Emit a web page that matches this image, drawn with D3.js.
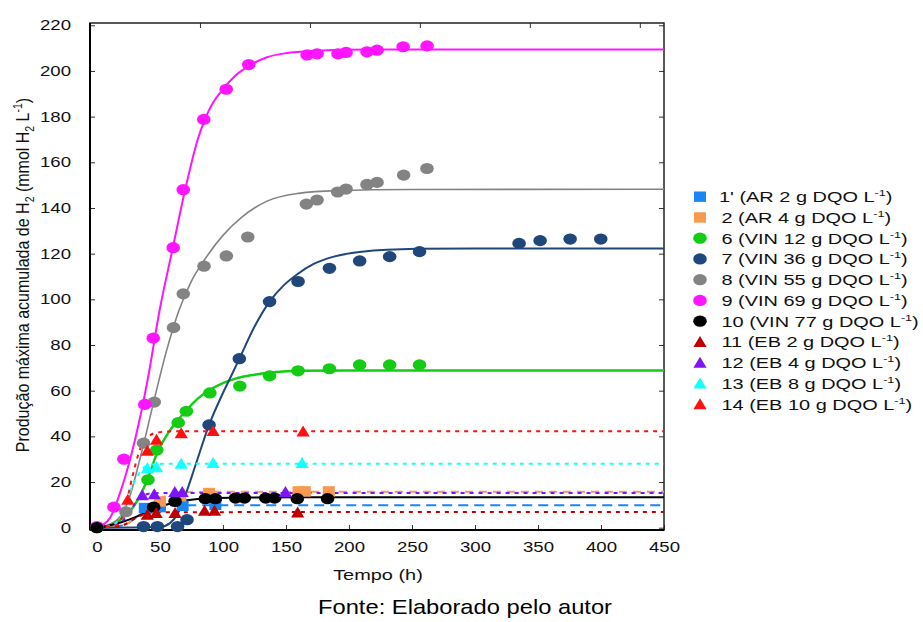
<!DOCTYPE html>
<html>
<head>
<meta charset="utf-8">
<script src="https://cdn.jsdelivr.net/npm/d3@7"></script>
<style>
  body { margin: 0; background: #fff; }
  svg { font-family: "Liberation Sans", Arial, sans-serif; }
</style>
</head>
<body>
<svg id="chart" width="923" height="622"></svg>
<script>
// Observed points [tempo (h), H2 (mmol/L)]
const obs1 = [[38, 8.6], [50, 9], [68, 9.6], [94, 10]];
const obs2 = [[50, 11.5], [66, 13.7], [89, 15.2], [160, 15.9], [165, 15.9], [184, 15.9]];
const obs6 = [[0, 0], [40.5, 21], [47.5, 34], [64.5, 46], [71, 51], [89.6, 59], [113.4, 62], [137, 66.5], [159.6, 68.7], [184.5, 69.6], [208.5, 71.3], [232.3, 71.3], [256, 71.3]];
const obs7 = [[37, 0.5], [48, 0.5], [64, 0.5], [71.5, 3.5], [89, 45], [113, 74], [137, 99], [159.6, 107.8], [184.5, 113.6], [208.5, 116.8], [232.3, 118.7], [256, 120.9], [335, 124.5], [351.7, 125.7], [375.5, 126.4], [399.8, 126.4]];
const obs8 = [[23, 7], [37, 37], [45.5, 55], [60.8, 87.6], [68.5, 102.4], [85, 114.5], [102.7, 119], [119.7, 127.3], [166.2, 141.7], [174.7, 143.5], [191, 147], [197.7, 148.3], [214.3, 150.3], [222.3, 151.2], [243.4, 154.4], [261.9, 157.3]];
const obs9 = [[0, 0.5], [13.5, 9], [21.4, 30], [38, 54], [44.7, 83], [60.5, 122.6], [68.5, 148], [84.8, 178.8], [102.6, 192], [120.5, 202.8], [166.8, 207], [174.7, 207.5], [191.3, 207.5], [197.7, 208.1], [214.3, 208.4], [222.3, 209.1], [243, 210.6], [262, 211]];
const obs10 = [[0, 0], [45, 9], [62, 11.5], [86, 12.7], [94, 12.7], [110, 13], [117, 13], [134, 13], [141, 13], [159, 12.7], [183, 12.7]];
const obs11 = [[40, 5.7], [47, 6.4], [62, 6.4], [85.4, 7.4], [93.3, 7.4], [159.3, 6.7]];
const obs12 = [[36, 14.2], [45.5, 14.6], [61.8, 15.6], [67.7, 15.6], [149.6, 15.6]];
const obs13 = [[40, 26], [47.3, 26.5], [66.9, 28], [92.2, 28.3], [162.8, 28.3]];
const obs14 = [[24.5, 12.2], [40, 33.7], [47.3, 38.5], [66.9, 41.4], [92.2, 42.4], [163.6, 42.1]];

// Fitted curves
const fit1 = [[0, 0], [20, 1], [30, 4], [38, 8.5], [45, 9.6], [55, 9.8], [450, 9.8]];
const fit2 = [[0, 0], [20, 1], [35, 6], [45, 11], [55, 14], [70, 15.5], [90, 15.7], [450, 15.7]];
const fit6 = [[0, 0], [10, 1], [20, 4], [30, 10], [40, 21], [48, 33], [56, 41], [64, 47], [72, 52], [80, 56.5], [90, 60.5], [100, 63.3], [110, 65.3], [125, 67], [140, 68.1], [161, 68.7], [200, 68.8], [450, 68.8]];
const fit7 = [[0, 0], [50, 0.3], [58, 2], [64, 6], [70, 14], [78, 27], [89, 45], [100, 59], [107, 67], [113, 74], [125, 88], [137, 99], [148, 106], [159, 111], [172, 115.5], [188, 118.7], [210, 120.8], [254, 122.1], [300, 122.3], [450, 122.3]];
const fit8 = [[0, 0], [15, 3], [25, 12], [35, 32], [45, 55], [55, 77], [65, 95], [75, 108], [85, 117], [100, 128], [115, 136], [135, 143], [160, 146.4], [190, 147.6], [250, 148.1], [450, 148.2]];
const fit9 = [[0, 0], [10, 4], [20, 18], [30, 38], [40, 64], [50, 96], [60, 122], [70, 148], [80, 170], [90, 184], [100, 192], [110, 198], [120, 202], [135, 206], [150, 207.8], [175, 208.9], [200, 209.3], [250, 209.4], [450, 209.4]];
const fit10 = [[0, 0], [10, 1], [20, 2.5], [30, 4.5], [40, 7], [50, 9.2], [60, 10.8], [70, 11.9], [80, 12.6], [95, 13], [120, 13.25], [160, 13.3], [450, 13.3]];
const fit11 = [[0, 0], [20, 1], [30, 4], [38, 6], [48, 6.8], [450, 6.9]];
const fit12 = [[0, 0], [15, 1], [25, 6], [32, 12], [40, 14.8], [50, 15.2], [450, 15.2]];
const fit13 = [[0, 0], [12, 1], [20, 6], [28, 18], [35, 25], [42, 27.5], [55, 28], [450, 28]];
const fit14 = [[0, 0], [15, 1], [22, 8], [28, 22], [34, 34], [40, 39.5], [48, 41.7], [60, 42.2], [450, 42.2]];

const xTicks = [0, 50, 100, 150, 200, 250, 300, 350, 400, 450];
const yTicks = [0, 20, 40, 60, 80, 100, 120, 140, 160, 180, 200, 220];
// the top frame carries its own, unlabelled tick spacing
const topTicks = [1, 2, 3, 4, 5];

const seriesNames = ["1' (AR 2 g DQO L", "2 (AR 4 g DQO L", "6 (VIN 12 g DQO L", "7 (VIN 36 g DQO L",
  "8 (VIN 55 g DQO L", "9 (VIN 69 g DQO L", "10 (VIN 77 g DQO L", "11 (EB 2 g DQO L",
  "12 (EB 4 g DQO L", "13 (EB 8 g DQO L", "14 (EB 10 g DQO L"];
const seriesColors = ["#1a86f5", "#f79a4f", "#14cc14", "#1f477b", "#838383", "#ff14ff", "#000000",
  "#c00000", "#7f14f5", "#14ffff", "#ff1010"];
const seriesShapes = ["square", "square", "circle", "circle", "circle", "circle", "circle",
  "triangle", "triangle", "triangle", "triangle"];
const observed = [obs1, obs2, obs6, obs7, obs8, obs9, obs10, obs11, obs12, obs13, obs14];
const fitted = [fit1, fit2, fit6, fit7, fit8, fit9, fit10, fit11, fit12, fit13, fit14];
const fitDash = ["10,6", "8,6", null, null, null, null, null, "4,5", "4,5", "4,5", "4,5"];
const fitWidth = [2, 2, 2.5, 2, 1.6, 2, 2, 2, 2, 2, 2];

// text in the source is stretched horizontally
const SX = 1.33;

var svg = d3.select("#chart");
var mLeft = 90, mRight = 664, mTop = 23, mBottom = 530;

var x = d3.scaleLinear().domain([-5.5, 450]).range([mLeft, mRight]);
var y = d3.scaleLinear().domain([-1, 221]).range([mBottom, mTop]);
var xTop = d3.scaleLinear().domain([0, 5.22]).range([mLeft, mRight]);

// Axes with inward ticks
var yAxis = svg.append("g")
  .attr("transform", `translate(${mLeft},0)`)
  .call(d3.axisLeft(y).tickValues(yTicks).tickSizeInner(-5).tickSizeOuter(0).tickPadding(19));
var xAxis = svg.append("g")
  .attr("transform", `translate(0,${mBottom})`)
  .call(d3.axisBottom(x).tickValues(xTicks).tickSizeInner(-5).tickSizeOuter(0).tickPadding(12));
svg.append("g")
  .attr("transform", `translate(${mRight},0)`)
  .call(d3.axisRight(y).tickValues(yTicks).tickSizeInner(-5).tickSizeOuter(0).tickFormat(""));
svg.append("g")
  .attr("transform", `translate(0,${mTop})`)
  .call(d3.axisTop(xTop).tickValues(topTicks).tickSizeInner(-5).tickSizeOuter(0).tickFormat(""));

svg.selectAll(".domain").remove();
svg.selectAll(".tick line").attr("stroke", "#333");

[yAxis, xAxis].forEach((ax) => {
  ax.selectAll("text")
    .attr("font-size", 14)
    .attr("font-family", "Liberation Sans, Arial, sans-serif")
    .attr("fill", "#111")
    .attr("transform", `scale(${SX},1)`)
    .attr("x", function () { return (+d3.select(this).attr("x") || 0) / SX; });
});

// frame
svg.append("rect")
  .attr("x", mLeft).attr("y", mTop)
  .attr("width", mRight - mLeft).attr("height", mBottom - mTop)
  .attr("fill", "none").attr("stroke", "#222").attr("stroke-width", 1.5);
svg.append("line").attr("x1", mLeft).attr("x2", mLeft).attr("y1", mTop).attr("y2", mBottom)
  .attr("stroke", "#000").attr("stroke-width", 2);
svg.append("line").attr("x1", mLeft).attr("x2", mRight).attr("y1", mBottom).attr("y2", mBottom)
  .attr("stroke", "#000").attr("stroke-width", 2);

// curves
var plot = svg.append("g");
var line = d3.line().x((d) => x(d[0])).y((d) => y(d[1])).curve(d3.curveMonotoneX);

fitted.forEach((pts, i) => {
  var path = plot.append("path")
    .attr("d", line(pts))
    .attr("fill", "none")
    .attr("stroke", seriesColors[i])
    .attr("stroke-width", fitWidth[i]);
  if (fitDash[i]) path.attr("stroke-dasharray", fitDash[i]);
});

function drawMarker(g, shape, cx, cy, color) {
  if (shape === "square") {
    g.append("rect").attr("x", cx - 6).attr("y", cy - 5.2).attr("width", 12).attr("height", 10.4).attr("fill", color);
  } else if (shape === "circle") {
    g.append("ellipse").attr("cx", cx).attr("cy", cy).attr("rx", 6.8).attr("ry", 5.6).attr("fill", color);
  } else {
    g.append("path")
      .attr("d", `M${cx - 6.6},${cy + 5}L${cx + 6.6},${cy + 5}L${cx},${cy - 6}Z`)
      .attr("fill", color);
  }
}

observed.forEach((pts, i) => {
  pts.forEach((p) => drawMarker(plot, seriesShapes[i], x(p[0]), y(p[1]), seriesColors[i]));
});

// legend
var legend = svg.append("g");
seriesNames.forEach((name, i) => {
  var cy = 196.7 + i * 20.75;
  drawMarker(legend, seriesShapes[i], 700, cy, seriesColors[i]);
  var t = legend.append("text")
    .attr("transform", `translate(${i === 0 ? 719 : 721.5},${cy + 5.3}) scale(${SX},1)`)
    .attr("font-size", 15)
    .attr("fill", "#111");
  t.append("tspan").text(name);
  t.append("tspan").attr("font-size", 9.5).attr("dy", -6).text("-1");
  t.append("tspan").attr("dy", 6).text(")");
});

// axis titles
var yTitle = svg.append("text")
  .attr("transform", `translate(29,275) scale(1.15,1) rotate(-90)`)
  .attr("text-anchor", "middle")
  .attr("font-size", 16)
  .attr("fill", "#111");
yTitle.append("tspan").text("Produção máxima acumulada de H");
yTitle.append("tspan").attr("font-size", 10.5).attr("dy", 4).text("2");
yTitle.append("tspan").attr("dy", -4).text(" (mmol H");
yTitle.append("tspan").attr("font-size", 10.5).attr("dy", 4).text("2");
yTitle.append("tspan").attr("dy", -4).text(" L");
yTitle.append("tspan").attr("font-size", 10.5).attr("dy", -6).text("-1");
yTitle.append("tspan").attr("dy", 6).text(")");

svg.append("text")
  .attr("transform", `translate(378,580) scale(${SX},1)`)
  .attr("text-anchor", "middle")
  .attr("font-size", 15)
  .attr("fill", "#111")
  .text("Tempo (h)");

svg.append("text")
  .attr("transform", `translate(465,614) scale(1.13,1)`)
  .attr("text-anchor", "middle")
  .attr("font-size", 21)
  .attr("fill", "#000")
  .text("Fonte: Elaborado pelo autor");
</script>
</body>
</html>
